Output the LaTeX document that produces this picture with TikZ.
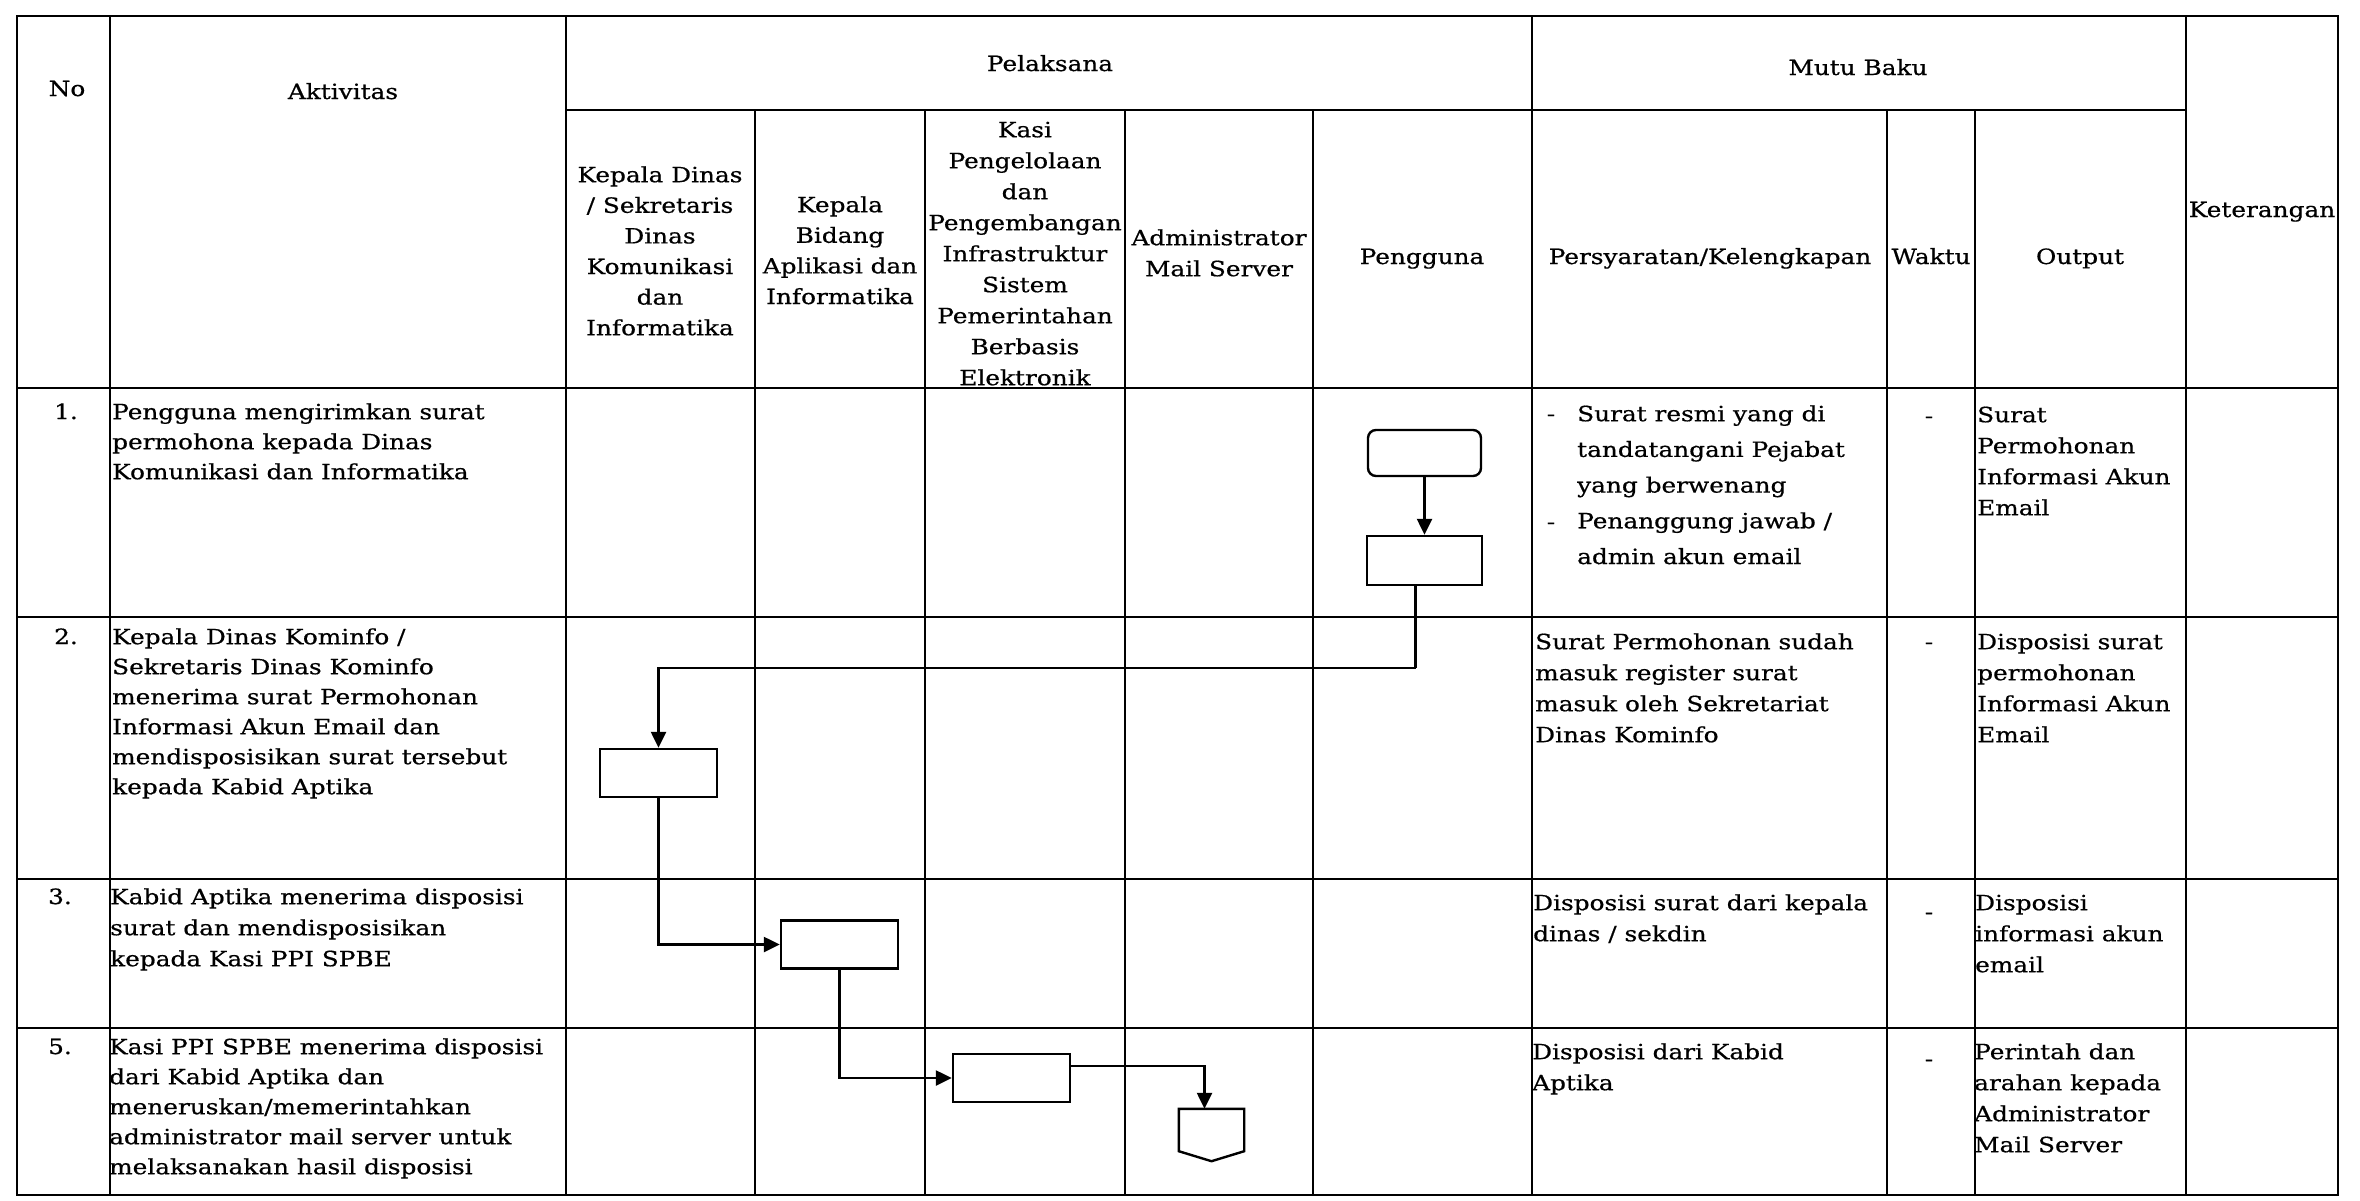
\documentclass[tikz,border=0pt]{standalone}
\usepackage{fontspec}
\setmainfont{DejaVu Serif}[FakeStretch=1.18,FakeBold=0.6]
\usetikzlibrary{arrows.meta,calc}
\newcommand\tstr{\rule{0pt}{20pt}}
\newcommand\fsA{\fontsize{21}{30}\selectfont}
\newcommand\fsH{\fontsize{21}{31}\selectfont}
\begin{document}
\begin{tikzpicture}[x=1pt,y=-1pt,
  grid/.style={line width=1.6pt},
  txt/.style={inner sep=0pt, font=\fsA},
  hdr/.style={txt, font=\fsH, align=center, anchor=north},
  cell/.style={txt, align=left, anchor=north west},
  lbl/.style={txt, anchor=base},
  stepbox/.style={draw, line width=2.4pt, minimum width=117pt, minimum height=48pt, inner sep=0pt},
  conn/.style={line width=2.4pt, -{Triangle[length=16pt,width=15pt]}},
  link/.style={line width=2.4pt}
]
\fill[white] (0,0) rectangle (2360,1200);
\useasboundingbox (0,0) rectangle (2360,1200);

% table grid
\draw[grid] (17,16) rectangle (2338,1195);
\draw[grid] (17,388) -- (2338,388);
\foreach \yy in {617,879,1028} \draw[grid] (17,\yy) -- (2338,\yy);
\draw[grid] (566,110) -- (2186,110);
\foreach \xx in {110,566,1532,2186} \draw[grid] (\xx,16) -- (\xx,1195);
\foreach \xx in {755,925,1125,1313,1887,1975} \draw[grid] (\xx,110) -- (\xx,1195);

% header texts
\node[lbl] (hNo) at (67,96) {No};
\node[lbl] (hAkt) at (343,99) {Aktivitas};
\node[lbl] (hPel) at (1050,71) {Pelaksana};
\node[lbl] (hMutu) at (1858,75) {Mutu Baku};
\node[lbl] (hKet) at (2262,217) {Keterangan};
\node[hdr, font=\fontsize{21}{30.6}\selectfont] (hKD) at (660,162) {\tstr Kepala Dinas\\/ Sekretaris\\Dinas\\Komunikasi\\dan\\Informatika};
\node[hdr, font=\fontsize{21}{30.6}\selectfont] (hKB) at (840,192) {\tstr Kepala\\Bidang\\Aplikasi dan\\Informatika};
\node[hdr] (hKasi) at (1025,117) {\tstr Kasi\\Pengelolaan\\dan\\Pengembangan\\Infrastruktur\\Sistem\\Pemerintahan\\Berbasis\\Elektronik};
\node[hdr] (hAdm) at (1219,225) {\tstr Administrator\\Mail Server};
\node[lbl] (hPeng) at (1422,264) {Pengguna};
\node[lbl] (hPers) at (1710,264) {Persyaratan/Kelengkapan};
\node[lbl] (hWak) at (1931,264) {Waktu};
\node[lbl] (hOut) at (2080,264) {Output};

% row numbers
\node[lbl] (n1) at (66,419) {1.};
\node[lbl] (n2) at (66,644) {2.};
\node[lbl] (n3) at (60,904) {3.};
\node[lbl] (n5) at (60,1054) {5.};

% aktivitas
\node[cell] (a1) at (112,399) {\tstr Pengguna mengirimkan surat\\permohona kepada Dinas\\Komunikasi dan Informatika};
\node[cell] (a2) at (112,624) {\tstr Kepala Dinas Kominfo /\\Sekretaris Dinas Kominfo\\menerima surat Permohonan\\Informasi Akun Email dan\\mendisposisikan surat tersebut\\kepada Kabid Aptika};
\node[cell, font=\fsH] (a3) at (110,884) {\tstr Kabid Aptika menerima disposisi\\surat dan mendisposisikan\\kepada Kasi PPI SPBE};
\node[cell] (a4) at (109,1034) {\tstr Kasi PPI SPBE menerima disposisi\\dari Kabid Aptika dan\\meneruskan/memerintahkan\\administrator mail server untuk\\melaksanakan hasil disposisi};

% persyaratan
\node[lbl] (d1) at (1551,421) {-};
\node[lbl] (d2) at (1551,529) {-};
\node[cell, font=\fontsize{21}{35.7}\selectfont] (r1p) at (1577,401) {\tstr Surat resmi yang di\\tandatangani Pejabat\\yang berwenang\\Penanggung jawab /\\admin akun email};
\node[cell, font=\fsH] (r2p) at (1535,629) {\tstr Surat Permohonan sudah\\masuk register surat\\masuk oleh Sekretariat\\Dinas Kominfo};
\node[cell, font=\fsH] (r3p) at (1533,890) {\tstr Disposisi surat dari kepala\\dinas / sekdin};
\node[cell, font=\fsH] (r4p) at (1532,1039) {\tstr Disposisi dari Kabid\\Aptika};

% waktu
\node[lbl] (w1) at (1929,423) {-};
\node[lbl] (w2) at (1929,649) {-};
\node[lbl] (w3) at (1929,919) {-};
\node[lbl] (w4) at (1929,1066) {-};

% output
\node[cell, font=\fsH] (o1) at (1977,402) {\tstr Surat\\Permohonan\\Informasi Akun\\Email};
\node[cell, font=\fsH] (o2) at (1977,629) {\tstr Disposisi surat\\permohonan\\Informasi Akun\\Email};
\node[cell, font=\fsH] (o3) at (1975,890) {\tstr Disposisi\\informasi akun\\email};
\node[cell, font=\fsH] (o4) at (1974,1039) {\tstr Perintah dan\\arahan kepada\\Administrator\\Mail Server};

% flow shapes
\node[stepbox, rounded corners=8pt, minimum width=113pt, minimum height=46pt] (s0) at (1424.5,453) {};
\node[stepbox, minimum width=115pt, minimum height=49pt] (s1) at (1424.5,560.5) {};
\node[stepbox] (s2) at (658.5,773) {};
\node[stepbox] (s3) at (839.5,944.5) {};
\node[stepbox] (s4) at (1011.5,1078) {};
\node[minimum width=65pt, minimum height=52pt, inner sep=0pt] (off) at (1211.5,1135) {};
\draw[link, line join=miter] (off.north west) -- (off.north east) -- ([yshift=10pt]off.south east) -- (off.south) -- ([yshift=10pt]off.south west) -- cycle;

% connectors
\coordinate (k1) at (1415.5,668);
\draw[conn] (s0) -- (s1);
\draw[link] ([xshift=-9pt]s1.south) -- (k1);
\draw[conn] (k1) -| (s2.north);
\draw[conn] (s2.south) |- (s3.west);
\draw[conn] (s3.south) |- (s4.west);
\draw[conn] ([yshift=12pt]s4.east) -| ([xshift=-7pt]off.north);
\end{tikzpicture}
\end{document}
